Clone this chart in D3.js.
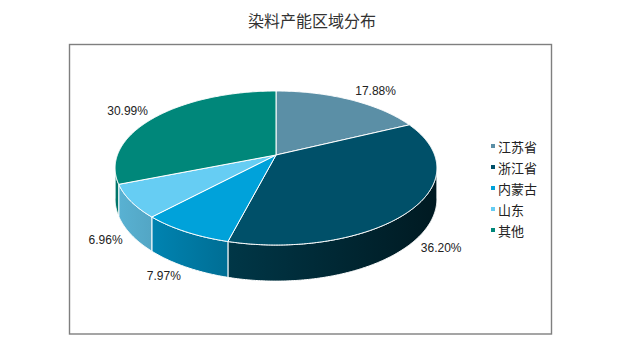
<!DOCTYPE html>
<html>
<head>
<meta charset="utf-8">
<style>
  body { margin: 0; background: #fff; }
  svg text { font-family: "Liberation Sans", Arial, "Noto Sans CJK SC", sans-serif; }
  .cjk { font-family: "Noto Sans CJK SC", sans-serif; }
</style>
</head>
<body>
<svg id="chart" width="619" height="353"></svg>
<script src="https://d3js.org/d3.v7.min.js"></script>
<script>
    // 数据
    const categories = ['江苏省', '浙江省', '内蒙古', '山东', '其他']
    const values = [17.88, 36.20, 7.97, 6.96, 30.99]
    const title = '染料产能区域分布'

    const svg = d3.select('#chart')

    const colorScale = d3.scaleOrdinal()
                         .domain(categories)
                         .range(['#5b8fa6', '#005069', '#00a2da', '#66cdf3', '#00877a'])

    // 外框
    svg.append('rect')
       .attr('x', 69.5).attr('y', 44.5)
       .attr('width', 482).attr('height', 289.5)
       .attr('fill', 'none')
       .attr('stroke', '#7f7f7f')
       .attr('stroke-width', 1.4)

    svg.append('text')
       .attr('class', 'cjk')
       .attr('x', 312).attr('y', 20)
       .attr('text-anchor', 'middle')
       .attr('dominant-baseline', 'central')
       .attr('font-size', 16)
       .attr('fill', '#333')
       .text(title)

    // 3D 饼图 (带透视)
    const cx = 276, cy = 155      // 圆心投影
    const A = 158.6, B = 74.8     // 水平 / 垂直半径
    const k = 0.169               // 透视系数
    const H = 30                  // 厚度

    function proj(a, r, drop) {
      const w = 1 + k * r * Math.cos(a)
      return [cx + A * r * Math.sin(a) / w,
              cy - B * r * Math.cos(a) / w + drop / w]
    }

    const pieGen = d3.pie().sort(null).value(d => d)
    const arcs = pieGen(values).map((d, i) => ({...d, key: categories[i]}))

    const step = Math.PI / 360
    function rim(a0, a1, drop) {
      const pts = []
      const n = Math.max(2, Math.ceil((a1 - a0) / step))
      for (let j = 0; j <= n; j++) pts.push(proj(a0 + (a1 - a0) * j / n, 1, drop))
      return pts
    }

    // 侧面渐变
    const defs = svg.append('defs')
    function shade(c, f) {
      const col = d3.rgb(c)
      return d3.rgb(col.r * f, col.g * f, col.b * f).toString()
    }
    arcs.forEach((d, i) => {
      const g = defs.append('linearGradient')
                    .attr('id', 'side' + i)
                    .attr('gradientUnits', 'userSpaceOnUse')
                    .attr('x1', cx - A).attr('x2', cx + A)
                    .attr('y1', 0).attr('y2', 0)
      g.append('stop').attr('offset', 0).attr('stop-color', shade(colorScale(d.key), 0.87))
      g.append('stop').attr('offset', 1).attr('stop-color', shade(colorScale(d.key), 0.32))
    })

    // 可见侧面范围 (轮廓切点)
    const sil1 = Math.acos(-k), sil2 = 2 * Math.PI - Math.acos(-k)
    const line = d3.line()

    const sides = arcs.filter(d => d.endAngle > sil1 && d.startAngle < sil2)
    svg.selectAll('.side')
       .data(sides)
       .join('path')
       .attr('class', 'side')
       .attr('d', d => {
         const a0 = Math.max(d.startAngle, sil1), a1 = Math.min(d.endAngle, sil2)
         const pts = rim(a0, a1, 0).concat(rim(a0, a1, H).reverse())
         return line(pts) + 'Z'
       })
       .attr('fill', d => 'url(#side' + d.index + ')')
       .attr('stroke', '#fff')
       .attr('stroke-width', 1)
       .attr('stroke-linejoin', 'round')

    svg.selectAll('.top')
       .data(arcs)
       .join('path')
       .attr('class', 'top')
       .attr('d', d => line([[cx, cy]].concat(rim(d.startAngle, d.endAngle, 0))) + 'Z')
       .attr('fill', d => colorScale(d.key))
       .attr('stroke', '#fff')
       .attr('stroke-width', 1)
       .attr('stroke-linejoin', 'round')

    // 数据标签
    const fmt = d3.format('.2f')
    svg.selectAll('.label')
       .data(arcs)
       .join('text')
       .attr('class', 'label')
       .each(function (d) {
         const a = (d.startAngle + d.endAngle) / 2
         const front = Math.cos(a) < 0
         const p = proj(a, 1, front ? H : 0)
         d3.select(this)
           .attr('x', p[0] + 10 * Math.sin(a))
           .attr('y', p[1] - 10 * Math.cos(a))
           .attr('text-anchor', Math.sin(a) > 0 ? 'start' : 'end')
       })
       .attr('dominant-baseline', 'central')
       .attr('font-size', 12)
       .attr('fill', '#222')
       .text(d => fmt(d.data) + '%')

    // 图例
    const legendY = d3.scalePoint()
                      .domain(categories)
                      .range([146, 230])
    const legend = svg.selectAll('.legend')
                      .data(categories)
                      .join('g')
                      .attr('class', 'legend')
                      .attr('transform', d => `translate(491, ${legendY(d)})`)
    legend.append('rect')
          .attr('x', 0).attr('y', -2)
          .attr('width', 4).attr('height', 4)
          .attr('fill', d => colorScale(d))
    legend.append('text')
          .attr('class', 'cjk')
          .attr('x', 7).attr('y', 0)
          .attr('dominant-baseline', 'central')
          .attr('font-size', 13)
          .attr('fill', '#222')
          .text(d => d)
</script>
</body>
</html>
